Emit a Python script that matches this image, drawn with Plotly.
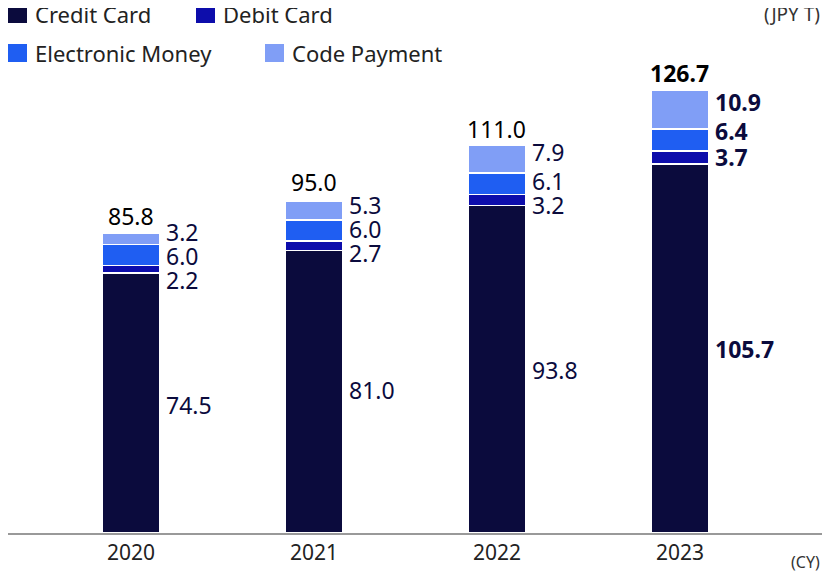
import plotly.graph_objects as go

years = ["2020", "2021", "2022", "2023"]
credit = [74.5, 81.0, 93.8, 105.7]
debit = [2.2, 2.7, 3.2, 3.7]
emoney = [6.0, 6.0, 6.1, 6.4]
code = [3.2, 5.3, 7.9, 10.9]
totals = [85.8, 95.0, 111.0, 126.7]

# label heights (axis units) picked so the small labels do not collide
credit_lbl_y = [36.7, 41.0, 46.7, 52.7]
debit_lbl_y = [72.5, 80.2, 94.0, 107.7]
emoney_lbl_y = [79.4, 87.1, 100.9, 115.2]
code_lbl_y = [86.2, 94.0, 109.2, 123.5]
total_lbl_y = [90.8, 100.6, 115.8, 131.8]

NAVY = "#0b0b3d"
series = [
    ("Credit Card", credit, "#0b0b3d"),
    ("Debit Card", debit, "#0d0dab"),
    ("Electronic Money", emoney, "#1f5ef2"),
    ("Code Payment", code, "#809ef6"),
]

fig = go.Figure()
for name, vals, color in series:
    fig.add_trace(go.Bar(
        x=list(range(len(years))), y=vals, name=name, width=0.317,
        marker=dict(color=color, line=dict(color="white", width=1.5)),
        hoverinfo="skip",
    ))

FONT = "Noto Sans, Open Sans, sans-serif"
ann = []
for i in range(len(years)):
    bold = i == len(years) - 1
    fmt = (lambda v: f"<b>{v:.1f}</b>") if bold else (lambda v: f"{v:.1f}")
    for vals, ys in [(credit, credit_lbl_y), (debit, debit_lbl_y),
                     (emoney, emoney_lbl_y), (code, code_lbl_y)]:
        ann.append(dict(x=i + 0.18, y=ys[i], text=fmt(vals[i]), xanchor="left",
                        yanchor="middle", showarrow=False,
                        font=dict(size=23, color=NAVY, family=FONT)))
    ann.append(dict(x=i, y=total_lbl_y[i], text=fmt(totals[i]), xanchor="center",
                    yanchor="middle", showarrow=False,
                    font=dict(size=23, color="black", family=FONT)))

# page has an 8px body margin; figure is sized to fit inside it
W, H = 814, 563
PLOT_H, B = 525, 38
OFF = 8


def py2paper(py):
    return (PLOT_H - (py - OFF)) / PLOT_H


legend_items = [("Credit Card", "#0b0b3d", 4, 14), ("Debit Card", "#0d0dab", 196, 14),
                ("Electronic Money", "#1f5ef2", 4, 53), ("Code Payment", "#809ef6", 265, 53)]
shapes = []
for name, color, px, py in legend_items:
    x0 = max(px - OFF, 0)
    shapes.append(dict(type="rect", xref="paper", yref="paper",
                       x0=x0 / W, x1=(x0 + 19) / W,
                       y0=py2paper(py + 9), y1=py2paper(py - 9),
                       fillcolor=color, line=dict(width=0)))
    ann.append(dict(xref="paper", yref="paper", x=(x0 + 25) / W,
                    y=py2paper(py), text=name, xanchor="left",
                    yanchor="middle", showarrow=False,
                    font=dict(size=22, color="#222", family=FONT)))
ann.append(dict(xref="paper", yref="paper", x=1, y=py2paper(14), text="(JPY T)",
                xanchor="right", yanchor="middle", showarrow=False,
                font=dict(size=19, color="#333", family=FONT)))
ann.append(dict(xref="paper", yref="paper", x=1, y=py2paper(562), text="(CY)",
                xanchor="right", yanchor="middle", showarrow=False,
                font=dict(size=16, color="#333", family=FONT)))

fig.update_layout(
    barmode="stack", width=W, height=H, showlegend=False,
    margin=dict(l=0, r=0, t=0, b=B),
    paper_bgcolor="white", plot_bgcolor="white",
    annotations=ann, shapes=shapes,
    font=dict(family=FONT),
)
fig.update_xaxes(range=[-0.672, 3.776], tickvals=list(range(len(years))), ticktext=years,
                 tickfont=dict(size=21, color="#222"), showline=True, linecolor="#999",
                 linewidth=1.5, showgrid=False, ticks="", fixedrange=True)
fig.update_yaxes(range=[0, 150.4], visible=False, fixedrange=True)

fig.write_html("out.html")
